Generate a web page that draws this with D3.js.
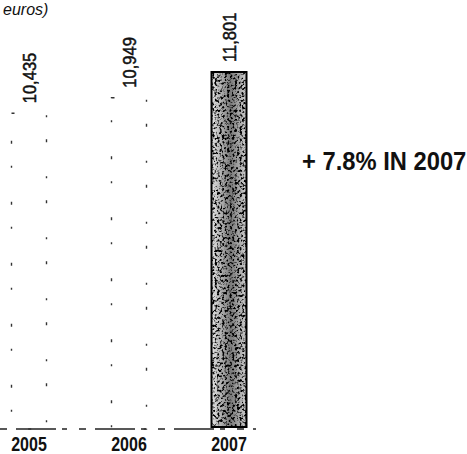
<!DOCTYPE html>
<html><head><meta charset="utf-8">
<script src="https://cdn.jsdelivr.net/npm/d3@7"></script>
<style>
html,body{margin:0;padding:0;background:#fff;}
svg{display:block;}
</style></head>
<body>
<svg id="chart" width="467" height="454"></svg>
<script>
const years = ["2005", "2006", "2007"];
const values = [10435, 10949, 11801];
const valueLabels = ["10,435", "10,949", "11,801"];
const titleText = "euros)";
const noteText = "+ 7.8% IN 2007";

const svg = d3.select("#chart");
const font = "'Liberation Sans',Arial,Helvetica,sans-serif";

const x = d3.scalePoint().domain(years).range([29, 229]);
const y = d3.scaleLinear().domain([0, 11801]).range([429, 72]);
const bw = 35;

const defs = svg.append("defs");
const grad = defs.append("linearGradient").attr("id", "g7").attr("x1", "0").attr("x2", "1").attr("y1", "0").attr("y2", "0");
grad.append("stop").attr("offset", "0").attr("stop-color", "#e6e6e6");
grad.append("stop").attr("offset", "0.55").attr("stop-color", "#7a7a7a");
grad.append("stop").attr("offset", "1").attr("stop-color", "#cfcfcf");
const f = defs.append("filter").attr("id", "stip").attr("x", 0).attr("y", 0).attr("width", 1).attr("height", 1);
f.append("feTurbulence").attr("type", "fractalNoise").attr("baseFrequency", 0.4).attr("numOctaves", 2).attr("seed", 4).attr("result", "n");
f.append("feColorMatrix").attr("in", "n").attr("type", "matrix")
  .attr("values", "0 0 0 0 0  0 0 0 0 0  0 0 0 0 0  -5 0 0 0 2.6").attr("result", "a");
f.append("feComposite").attr("in", "a").attr("in2", "SourceGraphic").attr("operator", "in");

// title
svg.append("text").attr("x", 3).attr("y", 15).attr("font-family", font)
  .attr("font-style", "italic").attr("font-size", 16).attr("fill", "#111").text(titleText);

// baseline
svg.append("line").attr("x1", 0).attr("x2", 256).attr("y1", 429).attr("y2", 429)
  .attr("stroke", "#222").attr("stroke-width", 1.3).attr("stroke-dasharray", "7,9,40,6,5,12");

const g = svg.append("g");
years.forEach((yr, i) => {
  const cx = x(yr), top = y(values[i]);
  if (i < 2) {
    g.append("rect").attr("x", cx - bw / 2).attr("y", top).attr("width", bw).attr("height", y(0) - top)
      .attr("fill", "none").attr("stroke", "#333").attr("stroke-width", 1.4).attr("stroke-dasharray", "3,34,2,22");
  } else {
    g.append("rect").attr("x", cx - bw / 2).attr("y", top).attr("width", bw).attr("height", y(0) - top - 2)
      .attr("fill", "url(#g7)");
    g.append("rect").attr("x", cx - bw / 2).attr("y", top).attr("width", bw).attr("height", y(0) - top - 2)
      .attr("fill", "#000").attr("filter", "url(#stip)");
    g.append("rect").attr("x", cx - bw / 2).attr("y", top).attr("width", bw).attr("height", y(0) - top - 2)
      .attr("fill", "none").attr("stroke", "#000").attr("stroke-width", 2);
  }
  g.append("text").attr("transform", `translate(${cx + 6.5},${top - 10}) rotate(-90) scale(0.92,1)`)
    .attr("font-family", font).attr("font-size", 18).attr("fill", "#111")
    .attr("stroke", "#111").attr("stroke-width", 0.5).text(valueLabels[i]);
  g.append("text").attr("transform", `translate(${cx},${451}) scale(0.8,1)`).attr("text-anchor", "middle")
    .attr("font-family", font).attr("font-weight", "bold").attr("font-size", 20).attr("fill", "#111").text(yr);
});

svg.append("text").attr("transform", "translate(302,170) scale(0.95,1)").attr("font-family", font)
  .attr("font-weight", "bold").attr("font-size", 25).attr("fill", "#111").text(noteText);
</script>
</body></html>
